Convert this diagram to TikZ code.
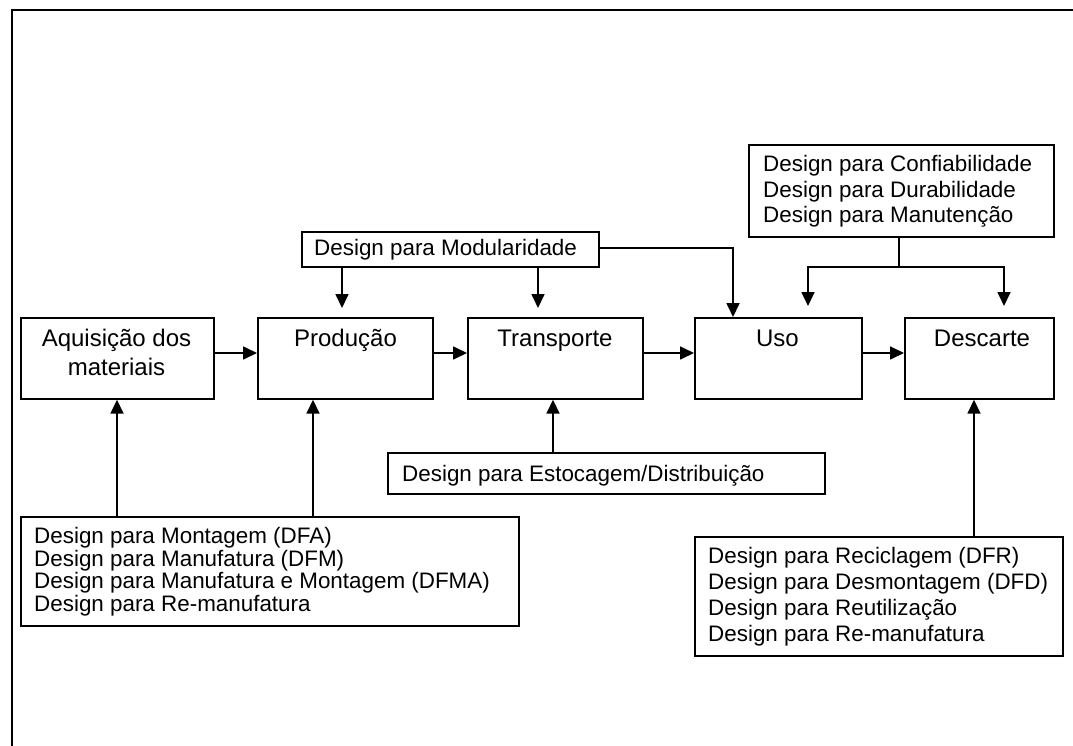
\documentclass[tikz,border=0pt]{standalone}
\usepackage{fontspec}
\setmainfont{Liberation Sans}
\usetikzlibrary{arrows.meta}
\tikzset{
  box/.style={draw, line width=1.7pt, inner sep=0pt, anchor=north west},
  arr/.style={line width=1.7pt, -{Triangle[length=14pt,width=13pt]}},
  plain/.style={line width=1.7pt},
  frame/.style={line width=2.2pt},
  big/.style={font={\fontsize{24}{28.3}\selectfont}, inner sep=0pt},
  lst/.style={font={\fontsize{22.4}{25}\selectfont}, inner sep=0pt, align=left, anchor=base west},
}
\begin{document}
\begin{tikzpicture}[x=1pt,y=-1pt]
\useasboundingbox (0,0) rectangle (1073,746);
\fill[white] (0,0) rectangle (1073,746);
\draw[frame] (1080,10) -- (12,10) -- (12,760);

% main boxes
\node[box, minimum width=193pt, minimum height=81pt] (aq) at (20,317) {};
\node[box, minimum width=175pt, minimum height=81pt] (pr) at (257,317) {};
\node[box, minimum width=175pt, minimum height=81pt] (tr) at (467,317) {};
\node[box, minimum width=167pt, minimum height=81pt] (uso) at (694,317) {};
\node[box, minimum width=149pt, minimum height=81pt] (de) at (904,317) {};

\node[big, align=center, anchor=base] (aqt) at (116.5,375) {Aquisição dos\\materiais};
\node[big, anchor=base] (prt) at (345.5,346.7) {Produção};
\node[big, anchor=base] (trt) at (555,346.7) {Transporte};
\node[big, anchor=base] (usot) at (777.5,346.7) {Uso};
\node[big, anchor=base] (det) at (982,346.7) {Descarte};

% design boxes
\node[box, minimum width=297pt, minimum height=35pt] (mod) at (301,231) {};
\node[lst] (modt) at (314,255) {Design para Modularidade};

\node[box, minimum width=305pt, minimum height=92pt] (conf) at (748,144) {};
\node[lst, font={\fontsize{22.4}{25.3}\selectfont}] (conft) at (763,222.3)
  {Design para Confiabilidade\\Design para Durabilidade\\Design para Manutenção};

\node[box, minimum width=437pt, minimum height=41pt] (est) at (387,452) {};
\node[lst] (estt) at (402,481) {Design para Estocagem/Distribuição};

\node[box, minimum width=498pt, minimum height=109pt] (bl) at (20,516) {};
\node[lst, font={\fontsize{22.4}{22.8}\selectfont}] (blt) at (34,611.7)
  {Design para Montagem (DFA)\\Design para Manufatura (DFM)\\Design para Manufatura e Montagem (DFMA)\\Design para Re-manufatura};

\node[box, minimum width=368pt, minimum height=119pt] (br) at (694,536) {};
\node[lst, font={\fontsize{22.4}{26.1}\selectfont}] (brt) at (708,641.6)
  {Design para Reciclagem (DFR)\\Design para Desmontagem (DFD)\\Design para Reutilização\\Design para Re-manufatura};

% flow arrows
\draw[arr] (aq.east |- 0,353) -- (pr.west |- 0,353);
\draw[arr] (pr.east |- 0,353) -- (tr.west |- 0,353);
\draw[arr] (tr.east |- 0,353) -- (uso.west |- 0,353);
\draw[arr] (uso.east |- 0,353) -- (de.west |- 0,353);

% modularidade
\draw[arr, shorten >=9pt] (mod.south -| 342,0) -- (pr.north -| 342,0);
\draw[arr, shorten >=9pt] (mod.south -| 538,0) -- (tr.north -| 538,0);
\draw[arr] (mod.east |- 0,248) -| (uso.north -| 733,0);

% confiabilidade
\coordinate (j) at (899,267);
\draw[plain] (conf.south -| j) -- (j);
\draw[arr, shorten >=11pt] (j) -| (uso.north -| 808,0);
\draw[arr, shorten >=11pt] (j) -| (de.north -| 1004,0);

% upward arrows
\draw[arr] (bl.north -| 117,0) -- (aq.south -| 117,0);
\draw[arr] (bl.north -| 313,0) -- (pr.south -| 313,0);
\draw[arr] (est.north -| 553,0) -- (tr.south -| 553,0);
\draw[arr] (br.north -| 974,0) -- (de.south -| 974,0);
\end{tikzpicture}
\end{document}
